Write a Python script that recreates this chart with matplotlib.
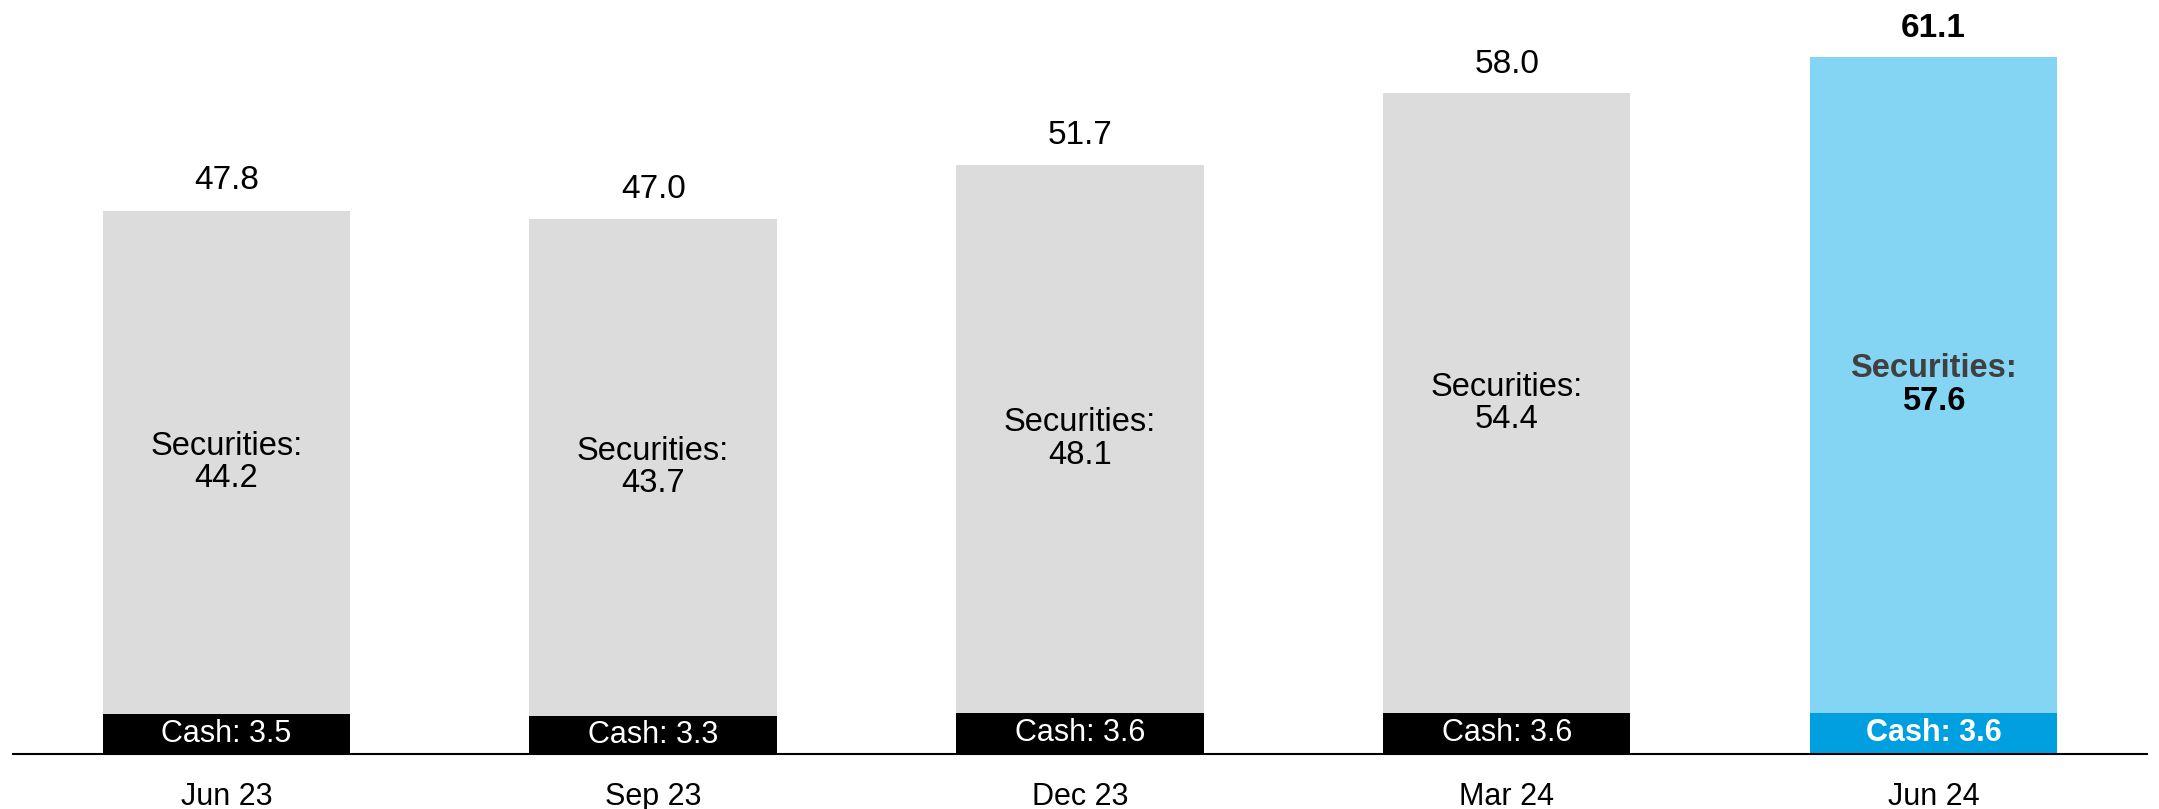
import matplotlib.pyplot as plt
import numpy as np

plt.rcParams['font.family'] = ['Liberation Sans', 'DejaVu Sans']

# datos del gráfico
periodos = ["Jun 23", "Sep 23", "Dec 23", "Mar 24", "Jun 24"]
efectivo = [3.5, 3.3, 3.6, 3.6, 3.6]
valores = [44.2, 43.7, 48.1, 54.4, 57.6]
totales = [47.8, 47.0, 51.7, 58.0, 61.1]

fig = plt.figure(figsize=(21.59, 8.09), dpi=100)
ax = fig.add_axes([0.006, 0.068, 0.9884, 0.932])

x = np.arange(len(periodos))
ancho = 0.58
ultimo = len(periodos) - 1

col_val = ["#DCDCDC"] * ultimo + ["#84D5F3"]
col_ef = ["#000000"] * ultimo + ["#009FDF"]

ax.bar(x, efectivo, width=ancho, color=col_ef, linewidth=0)
ax.bar(x, valores, width=ancho, bottom=efectivo, color=col_val, linewidth=0)

for i in x:
    destacado = i == ultimo
    peso = "bold" if destacado else "normal"
    # cash
    ax.text(i, efectivo[i] / 2, f"Cash: {efectivo[i]:.1f}", ha="center", va="center",
            color="white", fontsize=22, fontweight=peso)
    # securities
    medio = efectivo[i] + valores[i] / 2
    if destacado:
        ax.annotate("Securities:", (i, medio), xytext=(0, 12), textcoords="offset points",
                    ha="center", va="center", fontsize=23.5, fontweight="bold", color="#404040")
        ax.annotate(f"{valores[i]:.1f}", (i, medio), xytext=(0, -12), textcoords="offset points",
                    ha="center", va="center", fontsize=23.5, fontweight="bold", color="black")
    else:
        ax.text(i, medio, f"Securities:\n{valores[i]:.1f}", ha="center", va="center",
                fontsize=23.5, color="black", linespacing=1.05)
    # total
    ax.annotate(f"{totales[i]:.1f}", (i, totales[i]), xytext=(0, 21), textcoords="offset points",
                ha="center", va="center", fontsize=24, fontweight=peso, color="black")

ax.set_xlim(-0.5, 4.5)
ax.set_ylim(0, 66.2)
ax.set_xticks(x)
ax.set_xticklabels(periodos, fontsize=22)
ax.tick_params(axis="x", length=0, pad=20)
ax.set_yticks([])
for lado in ["top", "right", "left"]:
    ax.spines[lado].set_visible(False)
ax.spines["bottom"].set_linewidth(1.5)

fig.savefig("out.png", dpi=100)
